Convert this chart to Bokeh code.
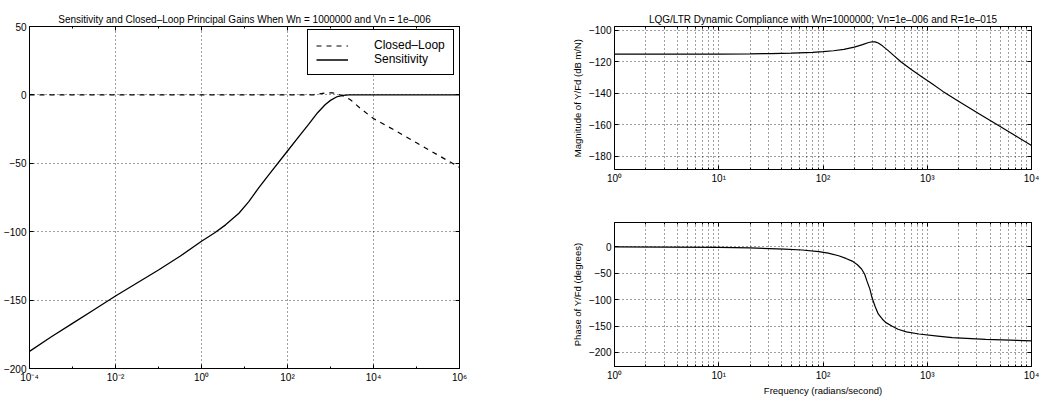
from bokeh.plotting import figure
from bokeh.models import (FixedTicker, Range1d, Legend, LegendItem, CustomJSTickFormatter,
                          LogAxis, LinearAxis)
from bokeh.layouts import row, column
from bokeh.embed import file_html
from bokeh.resources import INLINE

FONT = "Liberation Sans"

# ---------------- data ----------------
# Left panel: log10(frequency) and gain in dB
sens_logw = [-4.0, -3.5, -3.0, -2.5, -2.0, -1.5, -1.0, -0.5, 0.0, 0.3, 0.56, 0.87, 1.1, 1.33,
             1.6, 2.0, 2.3, 2.49, 2.7, 2.88, 3.0, 3.16, 3.3, 3.43, 4.0, 5.0, 6.0]
sens_db = [-187.5, -177.0, -167.0, -157.0, -147.0, -137.5, -128.0, -118.0, -107.0, -101.0, -95.0,
           -86.5, -78.0, -68.0, -57.0, -41.0, -29.0, -21.5, -13.0, -7.0, -4.0, -1.2, -0.3, 0.0,
           0.0, 0.0, 0.0]
cl_logw = [-4.0, -2.0, 0.0, 2.0, 2.6, 2.75, 2.9, 3.05, 3.2, 3.35, 3.47, 3.7, 4.0, 4.5, 5.0, 5.5, 6.0]
cl_db = [0.0, 0.0, 0.0, 0.0, 0.0, 0.8, 1.5, 1.5, 0.3, -1.5, -3.7, -10.0, -17.3, -26.0, -35.0,
         -44.0, -53.0]

# Right panels: log10(frequency), magnitude (dB m/N) and phase (degrees)
mag_logw = [0.0, 0.5, 1.0, 1.3, 1.5, 1.7, 1.9, 2.0, 2.1, 2.2, 2.3, 2.38, 2.43, 2.47, 2.5, 2.53,
            2.57, 2.62, 2.68, 2.75, 2.85, 2.95, 3.05, 3.15, 3.3, 3.5, 3.7, 3.85, 4.0]
mag_db = [-115.0, -115.0, -115.0, -114.9, -114.7, -114.4, -113.9, -113.5, -112.9, -112.0, -110.6,
          -109.0, -107.8, -107.2, -107.3, -108.0, -109.8, -112.5, -116.0, -120.0, -125.0, -129.5,
          -134.0, -138.7, -145.0, -153.0, -161.0, -167.0, -173.0]
ph_logw = [0.0, 1.0, 1.3, 1.63, 1.8, 1.96, 2.05, 2.15, 2.22, 2.28, 2.33, 2.37, 2.40, 2.42, 2.45,
           2.47, 2.50, 2.53, 2.57, 2.60, 2.66, 2.72, 2.80, 2.92, 3.10, 3.24, 3.56, 4.0]
ph_deg = [0.0, -1.0, -2.0, -4.4, -6.0, -9.0, -12.0, -17.0, -22.0, -27.0, -34.0, -42.0, -52.0,
          -64.0, -80.0, -96.0, -113.0, -127.0, -137.0, -143.0, -150.0, -156.0, -161.0, -165.0,
          -169.0, -172.0, -175.0, -178.0]

# Tick values and labels
left_xticks = [1e-4, 1e-2, 1e0, 1e2, 1e4, 1e6]
left_xlabels = ["10\u207b\u2074", "10\u207b\u00b2", "10\u2070", "10\u00b2", "10\u2074", "10\u2076"]
left_yticks = [-200, -150, -100, -50, 0, 50]
right_xticks = [1e0, 1e1, 1e2, 1e3, 1e4]
right_xlabels = ["10\u2070", "10\u00b9", "10\u00b2", "10\u00b3", "10\u2074"]
mag_yticks = [-180, -160, -140, -120, -100]
ph_yticks = [-200, -150, -100, -50, 0]

sens_w = [10 ** v for v in sens_logw]
cl_w = [10 ** v for v in cl_logw]
mag_w = [10 ** v for v in mag_logw]
ph_w = [10 ** v for v in ph_logw]


def fmt(ticks, labels):
    return CustomJSTickFormatter(args=dict(t=ticks, l=labels), code="""
        let best = 0, bd = 1e9;
        for (let i = 0; i < t.length; i++) {
            const d = Math.abs(Math.log10(tick) - Math.log10(t[i]));
            if (d < bd) { bd = d; best = i; }
        }
        return bd < 0.01 ? l[best] : "";
    """)


def blank():
    return CustomJSTickFormatter(code='return "";')


def tick_style(ax):
    ax.major_tick_in = 4
    ax.major_tick_out = 0
    ax.minor_tick_in = 2
    ax.minor_tick_out = 0
    ax.axis_line_color = "black"
    ax.major_tick_line_color = "black"
    ax.minor_tick_line_color = "black"


def style(p, xticks, xlabels, xminor, yticks, minor_grid, xlabel=None, ylabel=None):
    xt = FixedTicker(ticks=xticks, minor_ticks=xminor)
    yt = FixedTicker(ticks=yticks)
    bottom = p.below[0]
    left = p.left[0]
    bottom.ticker = xt
    left.ticker = yt
    bottom.formatter = fmt(xticks, xlabels)
    p.xgrid.ticker = xt
    p.ygrid.ticker = yt
    if xlabel:
        bottom.axis_label = xlabel
    if ylabel:
        left.axis_label = ylabel
    for ax in (bottom, left):
        tick_style(ax)
        ax.major_label_text_font = FONT
        ax.major_label_text_font_size = "10px"
        ax.major_label_text_color = "black"
        ax.major_label_standoff = 3
        ax.axis_label_text_font = FONT
        ax.axis_label_text_font_size = "9.5px"
        ax.axis_label_text_font_style = "normal"
        ax.axis_label_text_color = "black"
        ax.axis_label_standoff = 3
    bottom.axis_label_standoff = 1
    # box ticks on the top and right edges (no labels)
    top = LogAxis(ticker=xt, formatter=blank(), major_label_standoff=0,
                  major_label_text_font_size="1px")
    right = LinearAxis(ticker=yt, formatter=blank(), major_label_standoff=0,
                       major_label_text_font_size="1px")
    tick_style(top)
    tick_style(right)
    p.add_layout(top, "above")
    p.add_layout(right, "right")
    for g in (p.xgrid[0], p.ygrid[0]):
        g.grid_line_color = "black"
        g.grid_line_alpha = 0.75
        g.grid_line_dash = "1 3"
        g.grid_line_width = 1
    if minor_grid:
        p.xgrid.minor_grid_line_color = "black"
        p.xgrid.minor_grid_line_alpha = 0.75
        p.xgrid.minor_grid_line_dash = "1 3"
    p.outline_line_color = "black"
    p.outline_line_width = 1
    p.outline_line_alpha = 1
    p.title.text_font = FONT
    p.title.text_font_size = "10px"
    p.title.text_font_style = "normal"
    p.title.text_color = "black"
    p.title.align = "center"
    p.title.standoff = 3


# ---------------- left figure ----------------
p1 = figure(x_axis_type="log", x_range=Range1d(1e-4, 1e6), y_range=Range1d(-200, 50),
            frame_width=430, frame_height=342, min_border_left=28, min_border_right=97,
            min_border_top=26, min_border_bottom=20, output_backend="svg",
            toolbar_location=None,
            title="Sensitivity and Closed\u2013Loop Principal Gains When Wn = 1000000 and Vn = 1e\u2013006")
left_minor = [1e-3, 1e-1, 1e1, 1e3, 1e5]
style(p1, left_xticks, left_xlabels, left_minor, left_yticks, False)

r_cl = p1.line(cl_w, cl_db, line_color="black", line_width=1.2, line_dash="5 5")
r_s = p1.line(sens_w, sens_db, line_color="black", line_width=1.3)

leg = Legend(items=[LegendItem(label="Closed\u2013Loop", renderers=[r_cl]),
                    LegendItem(label="Sensitivity", renderers=[r_s])],
             location=(278, 293), border_line_color="black", border_line_width=1,
             border_line_alpha=1, background_fill_color="white", background_fill_alpha=1,
             label_text_font=FONT, label_text_font_size="12px", label_text_color="black",
             glyph_width=32, glyph_height=13, label_height=13, label_standoff=26,
             padding=8, spacing=0, margin=0)
p1.add_layout(leg)

# ---------------- right figures ----------------
right_minor = [m * 10 ** d for d in range(0, 4) for m in range(2, 10)]

p2 = figure(x_axis_type="log", x_range=Range1d(1, 1e4), y_range=Range1d(-188.3, -97.5),
            frame_width=417, frame_height=143, min_border_left=58, min_border_right=8,
            min_border_top=26, min_border_bottom=25, output_backend="svg",
            toolbar_location=None,
            title="LQG/LTR Dynamic Compliance with Wn=1000000; Vn=1e\u2013006 and R=1e\u2013015")
style(p2, right_xticks, right_xlabels, right_minor, mag_yticks, True,
      ylabel="Magnitude of Y/Fd (dB m/N)")
p2.line(mag_w, mag_db, line_color="black", line_width=1.2)

p3 = figure(x_axis_type="log", x_range=Range1d(1, 1e4), y_range=Range1d(-226.5, 46),
            frame_width=417, frame_height=144, min_border_left=58, min_border_right=8,
            min_border_top=28, min_border_bottom=10, output_backend="svg",
            toolbar_location=None)
style(p3, right_xticks, right_xlabels, right_minor, ph_yticks, True,
      xlabel="Frequency (radians/second)", ylabel="Phase of Y/Fd (degrees)")
p3.line(ph_w, ph_deg, line_color="black", line_width=1.2)

layout = row(p1, column(p2, p3, spacing=0), spacing=0)
open("out.html", "w").write(file_html(layout, INLINE))
